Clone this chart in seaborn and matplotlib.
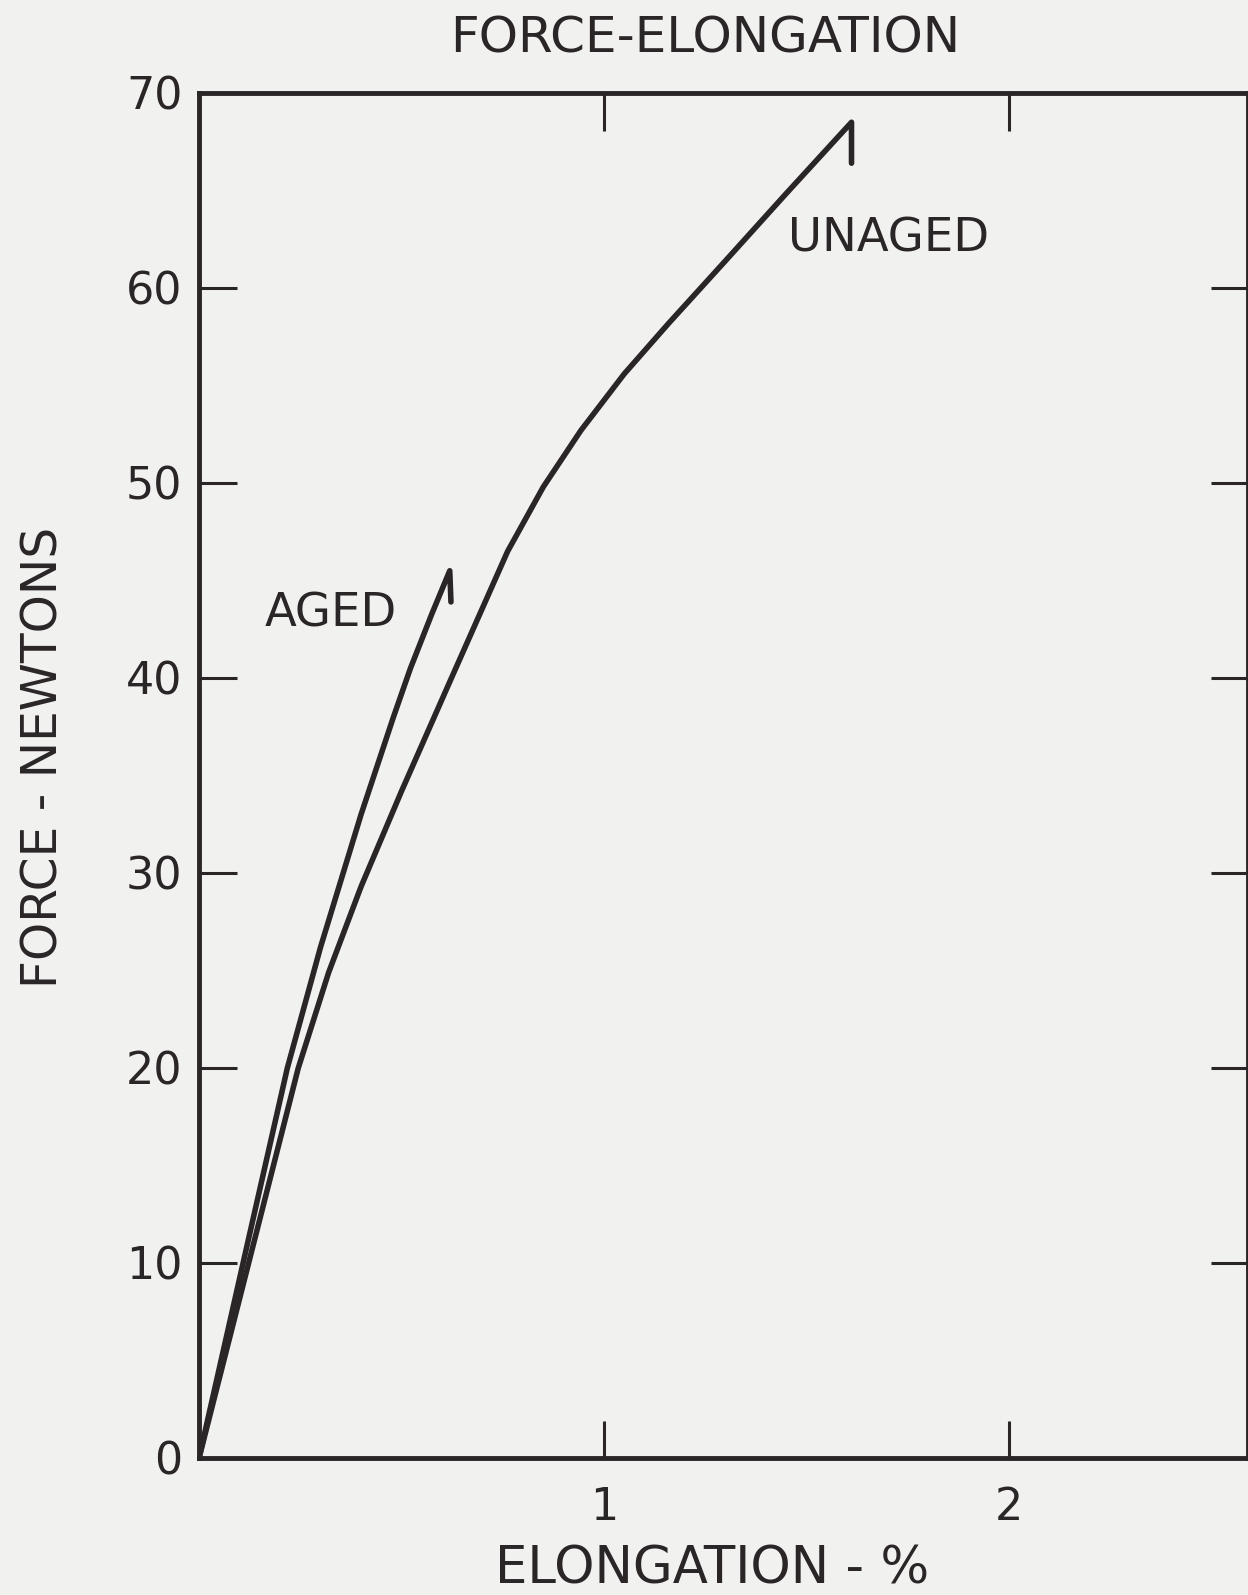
import pandas as pd
import matplotlib
matplotlib.use("Agg")
import matplotlib.pyplot as plt
import seaborn as sns

# curves (elongation %, force N); last point is the break hook
unaged_x = [0, 0.120, 0.245, 0.320, 0.400, 0.500, 0.620, 0.762, 0.850, 0.943, 1.050, 1.160, 1.300, 1.450, 1.611, 1.611]
unaged_y = [0, 9.8, 20.0, 24.9, 29.3, 34.2, 39.85, 46.5, 49.8, 52.7, 55.6, 58.2, 61.4, 64.85, 68.5, 66.4]

aged_x = [0, 0.112, 0.218, 0.300, 0.400, 0.480, 0.522, 0.575, 0.619, 0.622]
aged_y = [0, 10.3, 20.0, 26.2, 33.0, 38.0, 40.5, 43.3, 45.5, 43.9]

x_ticks = [1, 2]
y_ticks = [0, 10, 20, 30, 40, 50, 60, 70]

ink = '#2a2527'
paper = '#f1f1ef'

sns.set_style('ticks')
plt.rcParams['font.family'] = ['DejaVu Sans']

fig = plt.figure(figsize=(12.48, 15.95), dpi=100, facecolor=paper)
ax = fig.add_axes([0.1595, 0.0859, 0.8405, 0.8558])
ax.set_facecolor(paper)

unaged = pd.DataFrame({'x': unaged_x, 'y': unaged_y})
aged = pd.DataFrame({'x': aged_x, 'y': aged_y})
sns.lineplot(data=unaged, x='x', y='y', sort=False, estimator=None, color=ink, lw=4, ax=ax)
sns.lineplot(data=aged, x='x', y='y', sort=False, estimator=None, color=ink, lw=4, ax=ax)
for ln in ax.lines:
    ln.set_solid_joinstyle('round')

ax.set_xlim(0, 2.59)
ax.set_ylim(0, 70)
ax.set_xticks(x_ticks)
ax.set_yticks(y_ticks)
ax.set_xticklabels(['1', '2'])
ax.set_yticklabels([str(v) for v in y_ticks])

for s in ax.spines.values():
    s.set_linewidth(3.5)
    s.set_color(ink)

ax.tick_params(axis='both', direction='in', length=27, width=2.2, color=ink,
               labelsize=32, labelcolor=ink)
ax.tick_params(axis='x', top=True, pad=20)
ax.tick_params(axis='y', right=True, pad=12)
ax.set_xlabel('')
ax.set_ylabel('')

# axis titles placed where the drawing has them
fig.text(0.5705, 0.016, 'ELONGATION - %', fontsize=37, color=ink, ha='center', va='center')
fig.text(0.035, 0.525, 'FORCE - NEWTONS', fontsize=35, color=ink, ha='center', va='center',
         rotation=90)

ax.text(0.161, 43.3, 'AGED', fontsize=33.5, color=ink, va='center', ha='left')
ax.text(1.453, 62.5, 'UNAGED', fontsize=33.5, color=ink, va='center', ha='left')

fig.text(0.565, 0.976, 'FORCE-ELONGATION', fontsize=36, color=ink,
         ha='center', va='center')

fig.savefig('out.png', dpi=100, facecolor=paper)
